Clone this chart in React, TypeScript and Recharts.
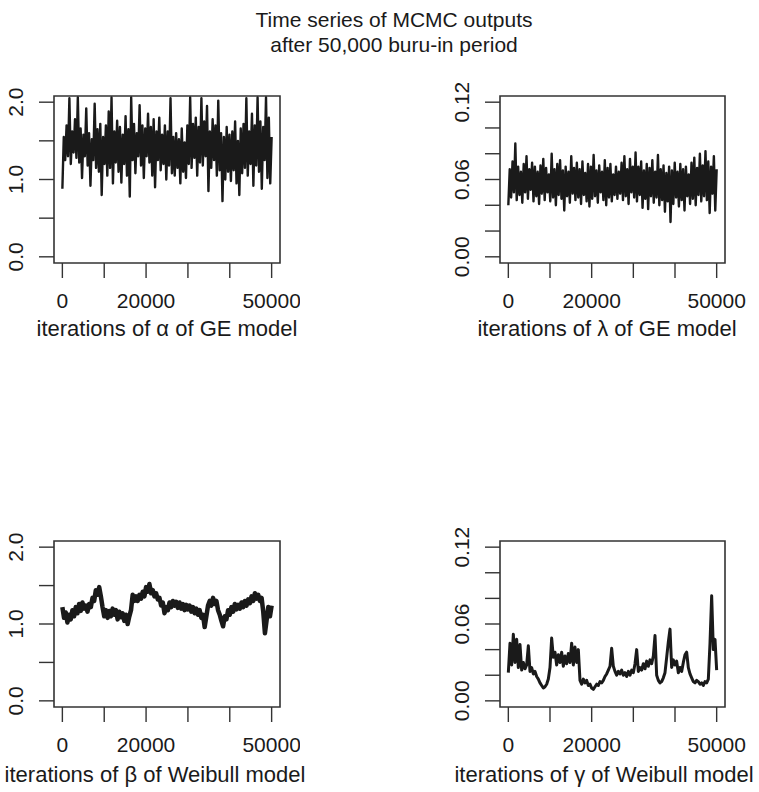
import React from "react";
import { LineChart, Line, XAxis, YAxis, ReferenceArea } from "recharts";

// axis ticks (R drops the labels that would overlap)
const X_TICKS = [0, 10000, 20000, 30000, 40000, 50000];
const X_LABELED = [0, 20000, 50000];
const SHAPE_TICKS = [0, 0.5, 1, 1.5, 2];
const SHAPE_LABELED = [0, 1, 2];
const RATE_TICKS = [0, 0.02, 0.04, 0.06, 0.08, 0.1, 0.12];
const RATE_LABELED = [0, 0.06, 0.12];

// traces, evenly spaced over 0..50000 iterations
const ALPHA_GE = [
  0.88, 1.55, 1.25, 1.7, 1.3, 2.05, 1.2, 1.62, 1.35, 1.78,
  1.28, 2.06, 1.22, 1.66, 1.02, 1.58, 1.3, 1.92, 1.18, 1.6,
  0.92, 1.52, 1.25, 1.98, 1.15, 1.65, 1.1, 1.72, 0.8, 1.55,
  1.2, 1.7, 1.05, 1.88, 1.15, 2.06, 0.95, 1.62, 1.22, 1.76,
  1.1, 1.68, 0.96, 1.58, 1.2, 1.82, 1.05, 1.65, 0.78, 2.06,
  1.25, 1.72, 1.08, 1.6, 1.3, 1.96, 1.18, 1.7, 1.02, 1.66,
  1.3, 1.85, 1.22, 1.68, 1.05, 1.78, 0.9, 1.62, 1.25, 1.8,
  1.12, 1.58, 1.2, 1.7, 1.0, 1.62, 1.18, 2.05, 1.08, 1.55,
  1.05, 1.6, 1.15, 1.52, 0.95, 1.66, 1.1, 1.48, 1.02, 1.7,
  1.2, 2.06, 1.15, 1.72, 1.28, 1.8, 1.05, 1.68, 1.22, 2.05,
  1.18, 1.75, 1.3, 1.95, 0.85, 1.62, 1.15, 1.78, 1.25, 1.7,
  1.05, 2.02, 1.12, 1.6, 0.72, 1.55, 1.0, 1.68, 1.1, 1.58,
  0.98, 1.62, 1.12, 1.75, 0.95, 1.5, 0.8, 1.66, 1.08, 1.72,
  1.15, 2.05, 1.05, 1.62, 1.2, 1.85, 0.92, 1.7, 1.18, 2.06,
  1.1, 1.75, 0.88, 1.68, 1.25, 2.06, 1.02, 1.8, 0.95, 1.55,
];

const LAMBDA_GE = [
  0.04, 0.068, 0.046, 0.074, 0.05, 0.088, 0.044, 0.07, 0.048, 0.066,
  0.042, 0.072, 0.05, 0.078, 0.045, 0.068, 0.052, 0.073, 0.043, 0.07,
  0.047, 0.066, 0.041, 0.071, 0.049, 0.076, 0.044, 0.069, 0.05, 0.064,
  0.043, 0.08, 0.046, 0.068, 0.04, 0.072, 0.048, 0.075, 0.045, 0.067,
  0.036, 0.07, 0.047, 0.066, 0.042, 0.078, 0.049, 0.069, 0.044, 0.073,
  0.046, 0.068, 0.041, 0.074, 0.048, 0.065, 0.043, 0.072, 0.039, 0.07,
  0.045, 0.079, 0.047, 0.067, 0.042, 0.071, 0.05, 0.066, 0.044, 0.075,
  0.04, 0.069, 0.046, 0.072, 0.043, 0.064, 0.048, 0.07, 0.045, 0.066,
  0.049, 0.073, 0.044, 0.078, 0.047, 0.068, 0.041, 0.076, 0.05, 0.07,
  0.046, 0.081, 0.043, 0.07, 0.048, 0.074, 0.038, 0.067, 0.045, 0.072,
  0.037, 0.069, 0.047, 0.075, 0.042, 0.066, 0.046, 0.079, 0.04, 0.068,
  0.044, 0.071, 0.035, 0.065, 0.043, 0.07, 0.027, 0.067, 0.041, 0.073,
  0.046, 0.066, 0.039, 0.072, 0.044, 0.068, 0.036, 0.07, 0.047, 0.064,
  0.041, 0.073, 0.045, 0.077, 0.04, 0.069, 0.048, 0.08, 0.043, 0.071,
  0.047, 0.082, 0.044, 0.074, 0.034, 0.07, 0.049, 0.078, 0.036, 0.068,
];

const BETA_WEIBULL = [
  1.22, 1.08, 1.15, 1.02, 1.12, 1.06, 1.18, 1.1, 1.22, 1.14,
  1.26, 1.17, 1.28, 1.2, 1.24, 1.16, 1.26, 1.22, 1.34, 1.3,
  1.44, 1.38, 1.48, 1.36, 1.22, 1.1, 1.18, 1.08, 1.17, 1.1,
  1.2, 1.12, 1.18, 1.06, 1.16, 1.09, 1.14, 1.04, 1.12, 1.0,
  1.1, 1.18, 1.38, 1.3, 1.36, 1.3, 1.38, 1.33, 1.42, 1.36,
  1.48, 1.42, 1.52, 1.4, 1.44, 1.36, 1.4, 1.32, 1.34, 1.24,
  1.28, 1.14, 1.22, 1.18, 1.28, 1.22, 1.3, 1.24, 1.29, 1.21,
  1.28, 1.2, 1.26, 1.18, 1.25, 1.19, 1.24, 1.16, 1.22, 1.14,
  1.2, 1.12, 1.18, 1.08, 1.12, 0.96, 1.1, 1.24, 1.3, 1.24,
  1.34, 1.26, 1.3, 1.18, 1.12, 1.04, 0.97, 1.1, 1.06, 1.18,
  1.12, 1.22, 1.16, 1.26, 1.19, 1.25, 1.2, 1.28, 1.22, 1.3,
  1.24, 1.32, 1.27, 1.36, 1.3, 1.4, 1.33, 1.38, 1.3, 1.34,
  1.16, 0.88, 1.05, 1.22, 1.1, 1.24,
];

const GAMMA_WEIBULL = [
  0.022, 0.045, 0.028, 0.052, 0.03, 0.048, 0.026, 0.044, 0.024, 0.03,
  0.025, 0.028, 0.043, 0.023, 0.026, 0.021, 0.023, 0.019, 0.017, 0.014,
  0.012, 0.01, 0.011, 0.013, 0.017, 0.026, 0.049, 0.034, 0.038, 0.028,
  0.036, 0.03, 0.038, 0.027, 0.035, 0.029, 0.037, 0.03, 0.045, 0.028,
  0.042, 0.03, 0.04, 0.016, 0.013, 0.017, 0.014, 0.016, 0.012, 0.013,
  0.01, 0.009, 0.011, 0.013, 0.012, 0.015, 0.014, 0.016, 0.019, 0.021,
  0.024, 0.027, 0.041, 0.027, 0.023, 0.02, 0.023, 0.021, 0.024, 0.02,
  0.022, 0.019, 0.023, 0.02, 0.024, 0.022, 0.029, 0.04, 0.023, 0.026,
  0.024, 0.029, 0.025, 0.031, 0.027, 0.032, 0.029, 0.035, 0.051, 0.02,
  0.016, 0.014, 0.015, 0.018, 0.022, 0.034, 0.046, 0.056, 0.026, 0.032,
  0.028, 0.031, 0.022, 0.026, 0.023, 0.03, 0.036, 0.038, 0.026, 0.021,
  0.018, 0.015, 0.014, 0.016, 0.015, 0.013, 0.014, 0.012, 0.015, 0.014,
  0.017, 0.045, 0.082, 0.04, 0.048, 0.024,
];

const FONT = "'Liberation Sans', Arial, Helvetica, sans-serif";
const INK = "#1a1a1a";

const toSeries = (vals: number[]) =>
  vals.map((v, i) => ({ iter: Math.round((i * 50000) / (vals.length - 1)), v }));

const has = (list: number[], v: number) => list.some((l) => Math.abs(l - v) < 1e-9);

function XTick(props: any) {
  const { x, y, payload } = props;
  if (!has(X_LABELED, payload.value)) return <g />;
  return (
    <text x={x} y={y} dy="0.71em" textAnchor="middle" fontSize={21} fill={INK} fontFamily={FONT}>
      {payload.value}
    </text>
  );
}

function makeYTick(labeled: number[], digits: number) {
  return (props: any) => {
    const { x, y, payload } = props;
    if (!has(labeled, payload.value)) return <g />;
    const bx = x - 14;
    return (
      <text
        x={bx}
        y={y}
        transform={`rotate(-90 ${bx} ${y})`}
        textAnchor="middle"
        fontSize={21}
        fill={INK}
        fontFamily={FONT}
      >
        {payload.value.toFixed(digits)}
      </text>
    );
  };
}

interface PanelProps {
  left: number;
  top: number;
  width: number;
  height: number;
  right: number;
  xAxisHeight: number;
  values: number[];
  yDomain: [number, number];
  yTicks: number[];
  yLabeled: number[];
  digits: number;
  strokeWidth: number;
}

function TracePanel(p: PanelProps) {
  const data = toSeries(p.values);
  return (
    <div style={{ position: "absolute", left: p.left, top: p.top }}>
      <LineChart
        width={p.width}
        height={p.height}
        data={data}
        margin={{ top: 36, right: p.right, left: 0, bottom: 0 }}
      >
        <XAxis
          dataKey="iter"
          type="number"
          domain={[-2000, 52000]}
          ticks={X_TICKS}
          allowDataOverflow
          axisLine={false}
          tickLine={{ stroke: "#333", strokeWidth: 1.4 }}
          tickSize={15}
          tickMargin={15}
          height={p.xAxisHeight}
          tick={XTick}
          interval={0}
        />
        <YAxis
          type="number"
          domain={p.yDomain}
          ticks={p.yTicks}
          allowDataOverflow
          axisLine={false}
          tickLine={{ stroke: "#333", strokeWidth: 1.4 }}
          tickSize={15}
          tickMargin={2}
          width={54}
          tick={makeYTick(p.yLabeled, p.digits)}
          interval={0}
        />
        <Line
          type="linear"
          dataKey="v"
          stroke={INK}
          strokeWidth={p.strokeWidth}
          strokeLinejoin="round"
          dot={false}
          isAnimationActive={false}
        />
        <ReferenceArea
          x1={-2000}
          x2={52000}
          y1={p.yDomain[0]}
          y2={p.yDomain[1]}
          fill="none"
          stroke="#333"
          strokeWidth={1.6}
          ifOverflow="visible"
        />
      </LineChart>
    </div>
  );
}

function Caption({ text, cx, cy, size }: { text: React.ReactNode; cx: number; cy: number; size: number }) {
  return (
    <div
      style={{
        position: "absolute",
        left: cx - 200,
        top: cy - size * 0.6,
        width: 400,
        textAlign: "center",
        fontSize: size,
        lineHeight: `${size * 1.2}px`,
        fontFamily: FONT,
        color: INK,
        whiteSpace: "nowrap",
      }}
    >
      {text}
    </div>
  );
}

export default function App() {
  return (
    <div
      style={{
        position: "absolute",
        left: 0,
        top: 0,
        width: 759,
        height: 792,
        background: "#fff",
        overflow: "hidden",
      }}
    >
      <Caption text="Time series of MCMC outputs" cx={394} cy={20} size={21} />
      <Caption text="after 50,000 buru-in period" cx={394} cy={45} size={21} />

      <TracePanel
        left={0}
        top={60}
        width={300}
        height={290}
        right={20}
        xAxisHeight={87}
        values={ALPHA_GE}
        yDomain={[-0.08, 2.08]}
        yTicks={SHAPE_TICKS}
        yLabeled={SHAPE_LABELED}
        digits={1}
        strokeWidth={2.4}
      />
      <TracePanel
        left={446}
        top={60}
        width={313}
        height={290}
        right={34}
        xAxisHeight={87}
        values={LAMBDA_GE}
        yDomain={[-0.0048, 0.1248]}
        yTicks={RATE_TICKS}
        yLabeled={RATE_LABELED}
        digits={2}
        strokeWidth={2.4}
      />
      <TracePanel
        left={0}
        top={505}
        width={300}
        height={287}
        right={20}
        xAxisHeight={85}
        values={BETA_WEIBULL}
        yDomain={[-0.08, 2.08]}
        yTicks={SHAPE_TICKS}
        yLabeled={SHAPE_LABELED}
        digits={1}
        strokeWidth={4.5}
      />
      <TracePanel
        left={446}
        top={505}
        width={313}
        height={287}
        right={34}
        xAxisHeight={85}
        values={GAMMA_WEIBULL}
        yDomain={[-0.0048, 0.1248]}
        yTicks={RATE_TICKS}
        yLabeled={RATE_LABELED}
        digits={2}
        strokeWidth={3}
      />

      <Caption text="iterations of α of GE model" cx={167} cy={329} size={22} />
      <Caption text="iterations of λ of GE model" cx={607} cy={329} size={22} />
      <Caption text="iterations of β of Weibull model" cx={155} cy={775} size={22} />
      <Caption text="iterations of γ of Weibull model" cx={604} cy={775} size={22} />
    </div>
  );
}
